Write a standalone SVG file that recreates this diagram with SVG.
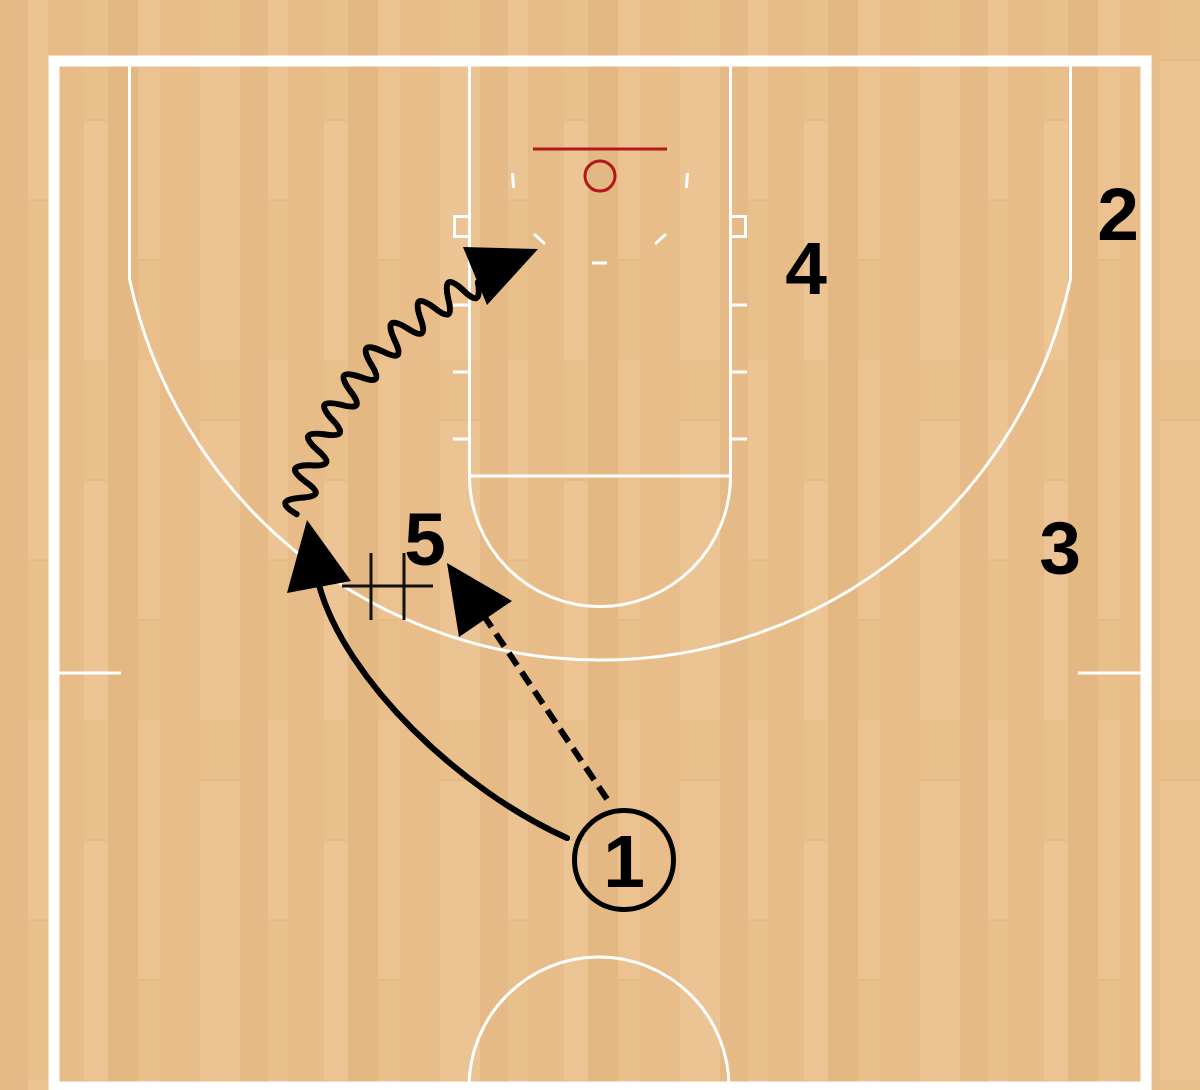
<svg xmlns="http://www.w3.org/2000/svg" width="1200" height="1090" viewBox="0 0 1200 1090">
  <defs>
    <pattern id="wood" x="0" y="0" width="240" height="360" patternUnits="userSpaceOnUse">
      <rect x="0" y="0" width="240" height="360" fill="#E9BF8C"/>
      <rect x="0" y="0" width="28" height="360" fill="#E6BA86"/>
      <rect x="28" y="0" width="20" height="200" fill="#ECC493"/>
      <rect x="48" y="0" width="36" height="360" fill="#E7BC88"/>
      <rect x="84" y="120" width="24" height="240" fill="#EDC595"/>
      <rect x="108" y="0" width="30" height="360" fill="#E4B883"/>
      <rect x="138" y="0" width="22" height="260" fill="#EBC290"/>
      <rect x="160" y="0" width="40" height="360" fill="#E8BD89"/>
      <rect x="200" y="60" width="40" height="300" fill="#ECC392"/>
      <line x1="28" y1="200" x2="48" y2="200" stroke="#E2B47F" stroke-width="1"/>
      <line x1="84" y1="120" x2="108" y2="120" stroke="#E2B47F" stroke-width="1"/>
      <line x1="138" y1="260" x2="160" y2="260" stroke="#E2B47F" stroke-width="1"/>
      <line x1="200" y1="60" x2="240" y2="60" stroke="#E2B47F" stroke-width="1"/>
    </pattern>
    <style>
      .court { fill: none; stroke: #FFFFFF; stroke-width: 3; }
      .boundary { fill: none; stroke: #FFFFFF; stroke-width: 11; }
      .hoop { fill: none; stroke: #B3161B; stroke-width: 3; }
      .move { fill: none; stroke: #000000; stroke-width: 6; stroke-linecap: round; }
      .pass { fill: none; stroke: #000000; stroke-width: 6; stroke-dasharray: 15 8; }
      .dribble { fill: none; stroke: #000000; stroke-width: 6; stroke-linejoin: round; stroke-linecap: round; }
      .head { fill: #000000; stroke: none; }
      .screen { fill: none; stroke: #111111; stroke-width: 3; }
      .num { font-family: "Liberation Sans", Arial, sans-serif; font-weight: bold; font-size: 75px; fill: #000000; text-anchor: middle; }
      .ring { fill: none; stroke: #000000; stroke-width: 5; }
    </style>
  </defs>

  <rect x="0" y="0" width="1200" height="1090" fill="url(#wood)"/>

  <g id="court">
    <rect class="boundary" x="54" y="61" width="1092" height="1026"/>
    <path class="court" d="M129.5,64 L129.5,279 A481,481 0 0 0 1070.5,279 L1070.5,64"/>
    <path class="court" d="M469.5,64 L469.5,476 L730.5,476 L730.5,64"/>
    <path class="court" d="M469.5,476 A130.5,130.5 0 0 0 730.5,476"/>
    <rect class="court" x="454.5" y="216.5" width="15" height="20"/>
    <rect class="court" x="730.5" y="216.5" width="15" height="20"/>
    <path class="court" d="M453,305 H469 M453,372 H469 M453,439 H469 M731,305 H747 M731,372 H747 M731,439 H747"/>
    <path class="court" d="M59,673 H121 M1078,673 H1141"/>
    <path class="court" d="M512.5,173 L513.5,188 M687.5,173 L686.5,188 M534,234 L545,244 M666,234 L655,244 M592,263 H607"/>
    <circle class="court" cx="599" cy="1087" r="130"/>
    <line class="hoop" x1="533" y1="149" x2="667" y2="149"/>
    <circle class="hoop" cx="600" cy="176" r="15"/>
  </g>

  <g id="connectors">
    <path class="move" d="M567,838 C460,790 345,680 319,585"/>
    <polygon class="head" points="307,520 287,593 351,581"/>
    <line class="pass" x1="607" y1="799" x2="484" y2="616"/>
    <polygon class="head" points="447,563 512,601 459,637"/>
    <path class="dribble" d="M296.6,514.2 Q272.1,499.9 300.4,497.7 Q328.6,496.9 305.1,481.4 Q282.2,464.6 310.6,465.3 Q338.7,467.4 316.9,449.6 Q295.8,430.5 324.0,434.2 Q351.7,439.2 331.8,419.2 Q312.8,398.1 340.5,404.6 Q367.6,412.4 349.9,390.5 Q333.1,367.5 360.0,376.8 Q386.1,387.4 370.7,363.7 Q356.4,339.2 382.2,351.2 Q407.1,364.4 394.2,339.3 Q382.5,313.4 406.9,328.0 Q430.3,343.7 420.1,317.4 Q411.1,290.5 433.9,307.5 Q455.6,325.5 448.1,298.3 Q442.0,270.6 462.8,289.8 Q482.6,310.0 477.9,282.2"/>
    <polygon class="head" points="463,247 538,249 487,305"/>
  </g>

  <g id="screen">
    <path class="screen" d="M342,586 H433 M371,553 V620 M404,553 V620"/>
  </g>

  <g id="player-5"><text class="num" x="425" y="565">5</text></g>
  <g id="player-4"><text class="num" x="806" y="294">4</text></g>
  <g id="player-2"><text class="num" x="1118" y="240">2</text></g>
  <g id="player-3"><text class="num" x="1060" y="574">3</text></g>
  <g id="player-1">
    <circle class="ring" cx="624" cy="860" r="49.5"/>
    <text class="num" x="624" y="887">1</text>
  </g>
</svg>
